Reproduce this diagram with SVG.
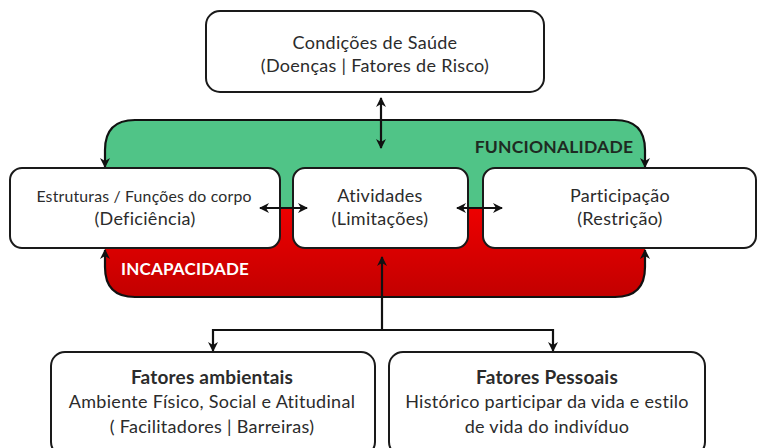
<svg xmlns="http://www.w3.org/2000/svg" width="757" height="448" viewBox="0 0 757 448">
<style>
.box{fill:#fff;stroke:#1a1a1a;stroke-width:2}
.t{font-family:Lato,"Liberation Sans",sans-serif;fill:#2b2b2b;text-anchor:middle;font-size:18px;letter-spacing:0.3px}
.b{font-weight:bold;font-size:19px;letter-spacing:0.2px}
.ln{fill:none;stroke:#111;stroke-width:2.2}
</style>
<defs>
<linearGradient id="red" x1="0" y1="0" x2="0" y2="1">
<stop offset="0" stop-color="#ee0000"/>
<stop offset="1" stop-color="#c20000"/>
</linearGradient>
<marker id="ah" viewBox="0 0 10 10" refX="9" refY="5" markerWidth="10" markerHeight="10" markerUnits="userSpaceOnUse" orient="auto-start-reverse">
<path d="M0,0 L10,5 L0,10 L3,5 Z" fill="#111"/>
</marker>
</defs>
<g id="band">
<path d="M105,208 V150 Q105,120 135,120 H615 Q645,120 645,150 V208 Z" fill="#50c487"/>
<path d="M105,208 V267 Q105,297 135,297 H615 Q645,297 645,267 V208 Z" fill="url(#red)"/>
<text class="t b" x="554" y="153" style="font-size:17.5px;fill:#1e2a22">FUNCIONALIDADE</text>
<text class="t b" x="185" y="275" style="font-size:17px;fill:#fff">INCAPACIDADE</text>
</g>
<g id="connectors">
<path class="ln" d="M105,167 V150 Q105,120 135,120 H615 Q645,120 645,150 V167" marker-start="url(#ah)" marker-end="url(#ah)"/>
<path class="ln" d="M105,250 V267 Q105,297 135,297 H615 Q645,297 645,267 V250" marker-start="url(#ah)" marker-end="url(#ah)"/>
<path class="ln" d="M381,98 V148" marker-start="url(#ah)" marker-end="url(#ah)"/>
<path class="ln" d="M382,330 V257" marker-end="url(#ah)"/>
<path class="ln" d="M213,351 V330 H553 V351" marker-start="url(#ah)" marker-end="url(#ah)"/>
</g>
<g id="saude">
<rect class="box" x="206" y="11" width="338" height="81" rx="14"/>
<text class="t" x="375" y="49">Condições de Saúde</text>
<text class="t" x="375" y="72">(Doenças | Fatores de Risco)</text>
</g>
<g id="estruturas">
<rect class="box" x="10" y="168" width="270" height="80" rx="12"/>
<text class="t" x="144" y="202" style="font-size:15.8px;letter-spacing:0.2px">Estruturas / Funções do corpo</text>
<text class="t" x="145" y="225">(Deficiência)</text>
</g>
<g id="atividades">
<rect class="box" x="293" y="168" width="175" height="80" rx="12"/>
<text class="t" x="380" y="202">Atividades</text>
<text class="t" x="380" y="225">(Limitações)</text>
</g>
<g id="participacao">
<rect class="box" x="483" y="168" width="273" height="80" rx="12"/>
<text class="t" x="620" y="202">Participação</text>
<text class="t" x="620" y="225">(Restrição)</text>
</g>
<g id="arrows-mid">
<path class="ln" d="M260,208 H307" marker-start="url(#ah)" marker-end="url(#ah)"/>
<path class="ln" d="M457,208 H502" marker-start="url(#ah)" marker-end="url(#ah)"/>
</g>
<g id="ambientais">
<rect class="box" x="51" y="352" width="324" height="104" rx="14"/>
<text class="t b" x="212" y="384">Fatores ambientais</text>
<text class="t" x="212" y="408">Ambiente Físico, Social e Atitudinal</text>
<text class="t" x="212" y="433">( Facilitadores | Barreiras)</text>
</g>
<g id="pessoais">
<rect class="box" x="389" y="352" width="316" height="104" rx="14"/>
<text class="t b" x="547" y="384">Fatores Pessoais</text>
<text class="t" x="547" y="408">Histórico participar da vida e estilo</text>
<text class="t" x="547" y="433">de vida do indivíduo</text>
</g>
</svg>
